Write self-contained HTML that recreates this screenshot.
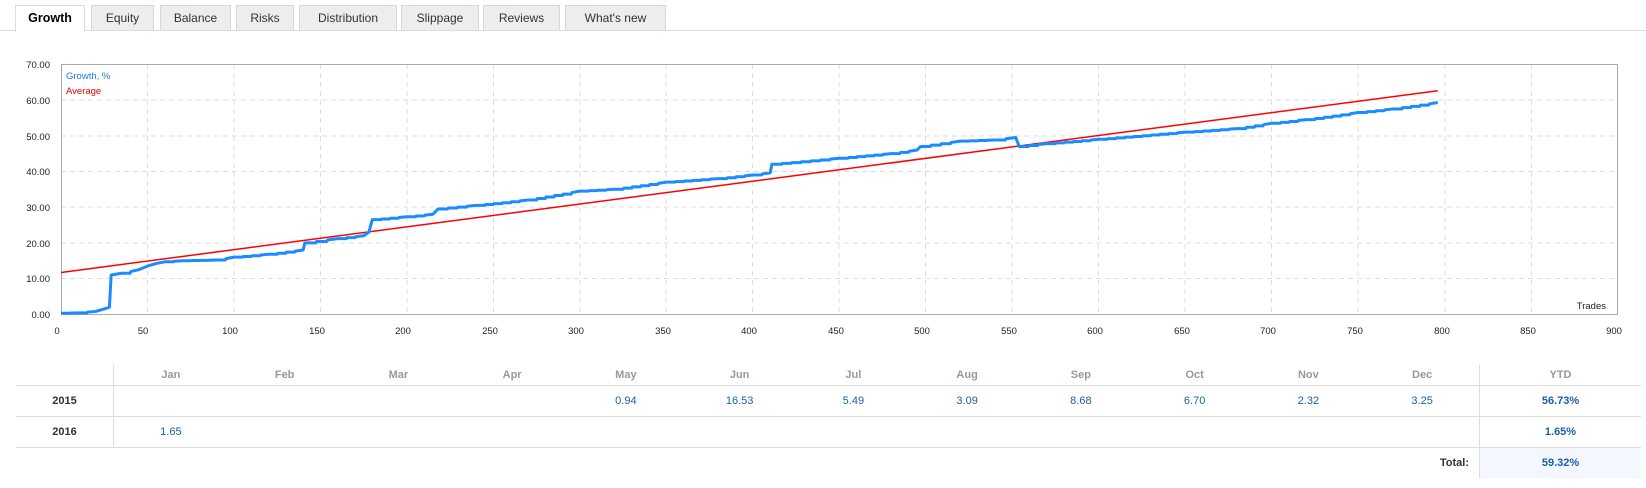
<!DOCTYPE html>
<html><head><meta charset="utf-8"><style>
body{margin:0;width:1646px;height:488px;background:#fff;font-family:"Liberation Sans",sans-serif;position:relative;overflow:hidden}
.tab{position:absolute;top:5px;height:25px;background:#efecef;border:1px solid #d8d8d8;border-bottom:none;font-size:12px;color:#333;text-align:center;line-height:24px;box-sizing:border-box}
.tab.a{background:#fff;font-weight:bold;color:#000;height:27px;border-color:#ddd;font-size:12.5px}
.base{position:absolute;top:30px;left:0;width:1646px;height:1px;background:#ddd}
table{position:absolute;left:16px;top:365px;border-collapse:collapse;font-size:11px}
td{height:30px;text-align:center;padding:0;border-bottom:1px solid #ddd}
tr.h td{height:20px;color:#999;font-weight:bold}
td.y{font-weight:bold;color:#333;width:97px;border-right:1px solid #ddd}
td.m{width:113.75px;color:#1a5fa8}
td.t{width:161px;border-left:1px solid #ddd;font-weight:bold;color:#1a5fa8}
tr.tot td{border-bottom:none}
</style></head><body>
<div class="tab a" style="left:15px;width:70px">Growth</div>
<div class="tab" style="left:91px;width:63px">Equity</div>
<div class="tab" style="left:160px;width:71px">Balance</div>
<div class="tab" style="left:236px;width:58px">Risks</div>
<div class="tab" style="left:299px;width:98px">Distribution</div>
<div class="tab" style="left:401px;width:78px">Slippage</div>
<div class="tab" style="left:483px;width:77px">Reviews</div>
<div class="tab" style="left:565px;width:101px">What's new</div>
<div class="base"></div>
<div class="base" style="left:16px;width:68px;background:#fff"></div>
<svg width="1646" height="488" style="position:absolute;left:0;top:0" font-family="Liberation Sans, sans-serif" font-size="9.5">
<g stroke="#ddd" stroke-dasharray="5,4" stroke-width="1">
<line x1="147.5" y1="64" x2="147.5" y2="314"/><line x1="234" y1="64" x2="234" y2="314"/><line x1="320.5" y1="64" x2="320.5" y2="314"/><line x1="407" y1="64" x2="407" y2="314"/><line x1="493.5" y1="64" x2="493.5" y2="314"/><line x1="580" y1="64" x2="580" y2="314"/><line x1="666" y1="64" x2="666" y2="314"/><line x1="752.5" y1="64" x2="752.5" y2="314"/><line x1="839" y1="64" x2="839" y2="314"/><line x1="925.5" y1="64" x2="925.5" y2="314"/><line x1="1012" y1="64" x2="1012" y2="314"/><line x1="1098.5" y1="64" x2="1098.5" y2="314"/><line x1="1185" y1="64" x2="1185" y2="314"/><line x1="1271.5" y1="64" x2="1271.5" y2="314"/><line x1="1358" y1="64" x2="1358" y2="314"/><line x1="1445" y1="64" x2="1445" y2="314"/><line x1="1531.5" y1="64" x2="1531.5" y2="314"/>
<line x1="61" y1="100" x2="1618" y2="100"/><line x1="61" y1="136" x2="1618" y2="136"/><line x1="61" y1="171.5" x2="1618" y2="171.5"/><line x1="61" y1="207" x2="1618" y2="207"/><line x1="61" y1="243" x2="1618" y2="243"/><line x1="61" y1="278.5" x2="1618" y2="278.5"/>
</g>
<rect x="61.5" y="64.5" width="1556" height="250" fill="none" stroke="#aaa"/>
<g fill="#222" text-anchor="end">
<text x="50" y="68">70.00</text><text x="50" y="104">60.00</text><text x="50" y="140">50.00</text><text x="50" y="175">40.00</text><text x="50" y="211">30.00</text><text x="50" y="247">20.00</text><text x="50" y="282">10.00</text><text x="50" y="318">0.00</text>
</g>
<g fill="#222" text-anchor="middle">
<text x="57" y="334">0</text><text x="143" y="334">50</text><text x="230" y="334">100</text><text x="317" y="334">150</text><text x="403" y="334">200</text><text x="490" y="334">250</text><text x="576" y="334">300</text><text x="663" y="334">350</text><text x="749" y="334">400</text><text x="836" y="334">450</text><text x="922" y="334">500</text><text x="1009" y="334">550</text><text x="1095" y="334">600</text><text x="1182" y="334">650</text><text x="1268" y="334">700</text><text x="1355" y="334">750</text><text x="1442" y="334">800</text><text x="1528" y="334">850</text><text x="1614" y="334">900</text>
</g>
<text x="1606" y="309" text-anchor="end" fill="#222">Trades</text>
<text x="66" y="79" fill="#1a7ce0">Growth, %</text>
<text x="66" y="94" fill="#e00">Average</text>
<g transform="translate(61,314.3) scale(1.7296,-3.5714)">
<polyline vector-effect="non-scaling-stroke" fill="none" stroke="#f00" stroke-width="1.5" points="0,11.7 796,62.6"/>
<polyline id="g" vector-effect="non-scaling-stroke" fill="none" stroke="#1a8cff" stroke-width="3" stroke-linejoin="round" points="0,0.3 796,59.3"/>
</g>
</svg>
<script>
var k=[[0,0.3],[10,0.4],[20,0.8],[25,1.5],[28,2],[29,11],[35,11.5],[45,12.5],[50,13.5],[55,14.2],[60,14.7],[70,15],[90,15.2],[100,16],[120,16.8],[140,18],[141,20],[160,21.2],[175,22],[178,23],[180,26.5],[200,27.3],[215,28],[218,29.5],[240,30.5],[270,32],[300,34.5],[320,35],[350,37],[380,38],[400,39],[410,39.6],[411,42],[450,43.7],[480,45],[495,46],[497,47],[520,48.5],[540,48.8],[552,49.5],[554,47],[570,47.8],[600,49],[650,51],[680,52],[700,53.5],[720,54.5],[750,56.5],[770,57.5],[796,59.3]];
var p=[];
for(var i=0;i<k.length-1;i++){var a=k[i],b=k[i+1];p.push(a[0]+","+a[1]);var d=b[0]-a[0];if(d>6){var n=Math.floor(d/5);for(var j=1;j<n;j++){var t=a[0]+d*j/n,v=a[1]+(b[1]-a[1])*(j-1)/n,v2=a[1]+(b[1]-a[1])*j/n;p.push(t+","+v);p.push((t+0.4)+","+v2);}}}
p.push("796,59.3");
document.getElementById("g").setAttribute("points",p.join(" "));
</script>
<table>
<tr class="h"><td class="y" style="border-bottom:1px solid #ddd"></td><td class="m" style="color:#999">Jan</td><td class="m" style="color:#999">Feb</td><td class="m" style="color:#999">Mar</td><td class="m" style="color:#999">Apr</td><td class="m" style="color:#999">May</td><td class="m" style="color:#999">Jun</td><td class="m" style="color:#999">Jul</td><td class="m" style="color:#999">Aug</td><td class="m" style="color:#999">Sep</td><td class="m" style="color:#999">Oct</td><td class="m" style="color:#999">Nov</td><td class="m" style="color:#999">Dec</td><td class="t" style="color:#999">YTD</td></tr>
<tr><td class="y">2015</td><td class="m"></td><td class="m"></td><td class="m"></td><td class="m"></td><td class="m">0.94</td><td class="m">16.53</td><td class="m">5.49</td><td class="m">3.09</td><td class="m">8.68</td><td class="m">6.70</td><td class="m">2.32</td><td class="m">3.25</td><td class="t">56.73%</td></tr>
<tr><td class="y">2016</td><td class="m">1.65</td><td class="m"></td><td class="m"></td><td class="m"></td><td class="m"></td><td class="m"></td><td class="m"></td><td class="m"></td><td class="m"></td><td class="m"></td><td class="m"></td><td class="m"></td><td class="t">1.65%</td></tr>
<tr class="tot"><td></td><td colspan="12" style="text-align:right;padding-right:10px;font-weight:bold;color:#333">Total:</td><td class="t" style="background:#f4f8fe">59.32%</td></tr>
</table>
</body></html>
